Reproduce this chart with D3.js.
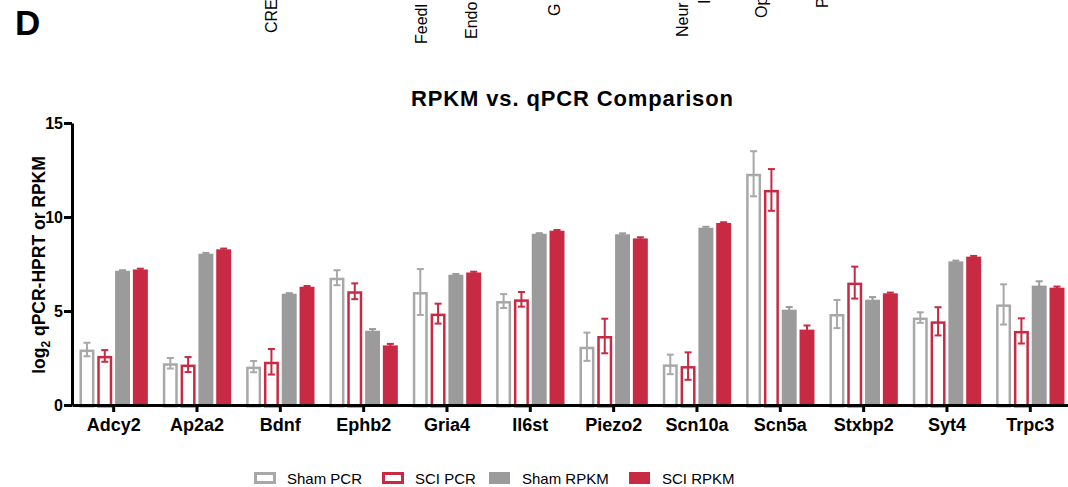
<!DOCTYPE html>
<html>
<head>
<meta charset="utf-8">
<script src="https://cdn.jsdelivr.net/npm/d3@7"></script>
<style>
  body { margin: 0; background: #fff; }
  svg { display: block; font-family: "Liberation Sans", Arial, sans-serif; }
</style>
</head>
<body>
<svg id="chart" width="1068" height="487"></svg>
<script>
// genes on the x axis
var genes = ['Adcy2', 'Ap2a2', 'Bdnf', 'Ephb2', 'Gria4', 'Il6st', 'Piezo2', 'Scn10a', 'Scn5a', 'Stxbp2', 'Syt4', 'Trpc3'];
var seriesNames = ['Sham PCR', 'SCI PCR', 'Sham RPKM', 'SCI RPKM'];

// means and error
var shamPCR = [2.95, 2.22, 2.04, 6.77, 6.01, 5.53, 3.10, 2.16, 12.30, 4.84, 4.65, 5.35];
var shamPCRErr = [0.36, 0.28, 0.30, 0.40, 1.22, 0.37, 0.75, 0.52, 1.20, 0.75, 0.28, 1.07];
var sciPCR = [2.61, 2.15, 2.30, 6.05, 4.86, 5.62, 3.67, 2.07, 11.44, 6.51, 4.45, 3.94];
var sciPCRErr = [0.31, 0.40, 0.68, 0.42, 0.53, 0.39, 0.92, 0.73, 1.11, 0.85, 0.75, 0.67];
var shamRPKM = [7.14, 8.05, 5.92, 3.95, 6.93, 9.11, 9.08, 9.43, 5.07, 5.60, 7.64, 6.35];
var shamRPKMErr = [0.03, 0.04, 0.03, 0.09, 0.04, 0.03, 0.05, 0.05, 0.14, 0.14, 0.04, 0.23];
var sciRPKM = [7.21, 8.28, 6.29, 3.17, 7.05, 9.27, 8.86, 9.68, 4.01, 5.94, 7.89, 6.24];
var sciRPKMErr = [0.04, 0.04, 0.04, 0.08, 0.04, 0.04, 0.06, 0.04, 0.22, 0.04, 0.04, 0.06];
var yTicks = [0, 5, 10, 15];

// cut-off labels of the panel above
var topLabels = [
  { t: 'CRE', x: 277, y: 33 },
  { t: 'Feedl', x: 427, y: 44 },
  { t: 'Endo', x: 477, y: 39 },
  { t: 'G', x: 560, y: 16 },
  { t: 'Neur', x: 688, y: 37 },
  { t: 'I', x: 710, y: 4 },
  { t: 'Op', x: 767, y: 18 },
  { t: 'P', x: 828, y: 8 }
];

var grey = '#9b9b9b';
var greyLine = '#a8a8a8';
var red = '#c72a42';

var series = [
  { name: 'Sham PCR', vals: shamPCR, err: shamPCRErr, color: greyLine, open: true },
  { name: 'SCI PCR', vals: sciPCR, err: sciPCRErr, color: red, open: true },
  { name: 'Sham RPKM', vals: shamRPKM, err: shamRPKMErr, color: grey, open: false },
  { name: 'SCI RPKM', vals: sciRPKM, err: sciRPKMErr, color: red, open: false }
];

var svg = d3.select('#chart');

// panel letter
svg.append('text')
  .attr('x', 15)
  .attr('y', 35)
  .attr('font-size', 35)
  .attr('font-weight', 'bold')
  .text('D');

svg.selectAll('.toplab')
  .data(topLabels)
  .enter()
  .append('text')
  .attr('class', 'toplab')
  .attr('transform', function(d) {
    return 'translate(' + d.x + ',' + d.y + ') rotate(-90)';
  })
  .attr('font-size', 16)
  .text(function(d) { return d.t; });

var left = 72;
var x0 = d3.scaleBand()
  .domain(genes)
  .range([left, left + 12 * 83.33]);

var x1 = d3.scaleBand()
  .domain(seriesNames)
  .range([0, 71.2])
  .paddingInner(0.16)
  .paddingOuter(0.08);

var y = d3.scaleLinear()
  .domain([0, 15])
  .range([405, 123]);

var groupOffset = (x0.bandwidth() - 71.2) / 2;

// 标题
svg.append('text')
  .attr('x', 572)
  .attr('y', 106)
  .attr('text-anchor', 'middle')
  .attr('font-size', 22)
  .attr('font-weight', 'bold')
  .attr('textLength', 322)
  .attr('lengthAdjust', 'spacing')
  .text('RPKM vs. qPCR Comparison');

// bars
var g = svg.append('g');
series.forEach(function(s) {
  var sg = g.append('g');
  var bw = x1.bandwidth();
  var sw = 2.5;
  sg.selectAll('rect')
    .data(genes)
    .enter()
    .append('rect')
    .attr('x', function(d) {
      var bx = x0(d) + groupOffset + x1(s.name);
      return s.open ? bx + sw / 2 : bx;
    })
    .attr('y', function(d, i) {
      return s.open ? y(s.vals[i]) + sw / 2 : y(s.vals[i]);
    })
    .attr('width', s.open ? bw - sw : bw)
    .attr('height', function(d, i) {
      return y(0) - y(s.vals[i]);
    })
    .attr('fill', s.open ? '#fff' : s.color)
    .attr('stroke', s.open ? s.color : 'none')
    .attr('stroke-width', sw);

  // error bars
  var eg = sg.selectAll('.err')
    .data(genes)
    .enter()
    .append('g')
    .attr('stroke', s.color)
    .attr('stroke-width', 2);
  eg.append('line')
    .attr('x1', function(d) { return x0(d) + groupOffset + x1(s.name) + bw / 2; })
    .attr('x2', function(d) { return x0(d) + groupOffset + x1(s.name) + bw / 2; })
    .attr('y1', function(d, i) { return y(s.vals[i] - s.err[i]); })
    .attr('y2', function(d, i) { return y(s.vals[i] + s.err[i]); });
  eg.append('line')
    .attr('x1', function(d) { return x0(d) + groupOffset + x1(s.name) + bw / 2 - 3.5; })
    .attr('x2', function(d) { return x0(d) + groupOffset + x1(s.name) + bw / 2 + 3.5; })
    .attr('y1', function(d, i) { return y(s.vals[i] + s.err[i]); })
    .attr('y2', function(d, i) { return y(s.vals[i] + s.err[i]); });
  if (s.open) {
    eg.append('line')
      .attr('x1', function(d) { return x0(d) + groupOffset + x1(s.name) + bw / 2 - 3.5; })
      .attr('x2', function(d) { return x0(d) + groupOffset + x1(s.name) + bw / 2 + 3.5; })
      .attr('y1', function(d, i) { return y(s.vals[i] - s.err[i]); })
      .attr('y2', function(d, i) { return y(s.vals[i] - s.err[i]); });
  }
});

// axes
var yAxis = svg.append('g')
  .attr('transform', 'translate(' + left + ',0)')
  .call(d3.axisLeft(y).tickValues(yTicks).tickSize(8).tickPadding(1).tickSizeOuter(0));
var xAxis = svg.append('g')
  .attr('transform', 'translate(0,' + y(0) + ')')
  .call(d3.axisBottom(x0).tickSize(7).tickPadding(5).tickSizeOuter(0));

[yAxis, xAxis].forEach(function(ax) {
  ax.select('.domain').attr('stroke', '#000').attr('stroke-width', 3);
  ax.selectAll('.tick line').attr('stroke', '#000').attr('stroke-width', 3);
  ax.selectAll('.tick text')
    .attr('fill', '#000')
    .attr('font-family', '"Liberation Sans", Arial, sans-serif')
    .attr('font-weight', 'bold');
});
yAxis.selectAll('.tick text').attr('font-size', 16).attr('dy', '0.36em');
xAxis.selectAll('.tick text').attr('font-size', 18).attr('dy', '0.75em');

// y 轴标题
var yt = svg.append('text')
  .attr('transform', 'translate(45,265) rotate(-90)')
  .attr('text-anchor', 'middle')
  .attr('font-size', 17.5)
  .attr('font-weight', 'bold');
yt.append('tspan').text('log');
yt.append('tspan').attr('font-size', 12).attr('dy', 5).text('2');
yt.append('tspan').attr('dy', -5).text(' qPCR-HPRT or RPKM');

// legend
var legendX = [254, 382, 489, 629];
var lg = svg.selectAll('.leg')
  .data(series)
  .enter()
  .append('g')
  .attr('transform', function(d, i) { return 'translate(' + legendX[i] + ',472)'; });
lg.append('rect')
  .attr('x', function(d) { return d.open ? 1.5 : 0; })
  .attr('y', function(d) { return d.open ? 1.5 : 0; })
  .attr('width', function(d) { return d.open ? 19 : 21; })
  .attr('height', function(d) { return d.open ? 9 : 12; })
  .attr('fill', function(d) { return d.open ? '#fff' : d.color; })
  .attr('stroke', function(d) { return d.open ? d.color : 'none'; })
  .attr('stroke-width', 3);
lg.append('text')
  .attr('x', 33)
  .attr('y', 11.5)
  .attr('font-size', 15)
  .text(function(d) { return d.name; });
</script>
</body>
</html>
